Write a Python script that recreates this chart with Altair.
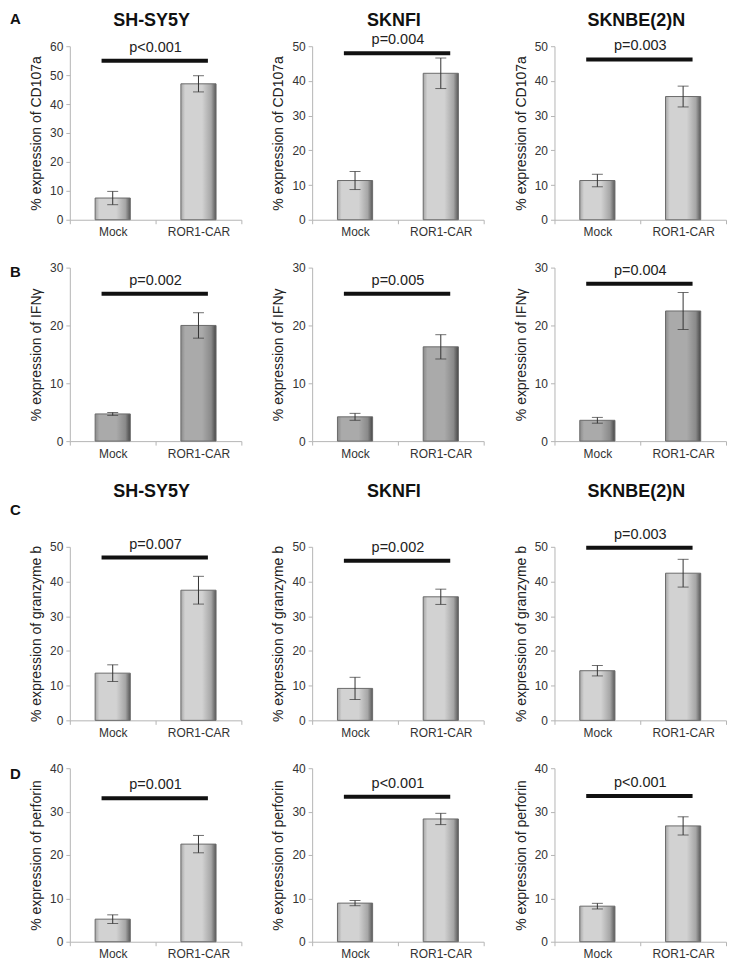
import altair as alt
import pandas as pd

# ---------------- data ----------------
cell_lines = ["SH-SY5Y", "SKNFI", "SKNBE(2)N"]
groups = ["Mock", "ROR1-CAR"]
row_letters = ["A", "B", "C", "D"]
row_ytitles = ["% expression of CD107a", "% expression of IFNγ",
               "% expression of granzyme b", "% expression of perforin"]
row_has_names = [True, False, True, False]

# means (per cell line)
cd107a_mock = [7.5, 11.3, 11.3]
cd107a_car = [47.0, 42.2, 35.5]
ifng_mock = [4.7, 4.2, 3.6]
ifng_car = [20.0, 16.3, 22.5]
gzmb_mock = [13.6, 9.2, 14.3]
gzmb_car = [37.5, 35.6, 42.4]
prf_mock = [5.2, 8.9, 8.2]
prf_car = [22.5, 28.3, 26.7]

# error half-widths
cd107a_mock_err = [2.3, 2.6, 1.8]
cd107a_car_err = [2.8, 4.4, 3.0]
ifng_mock_err = [0.25, 0.6, 0.5]
ifng_car_err = [2.2, 2.1, 3.2]
gzmb_mock_err = [2.4, 3.2, 1.5]
gzmb_car_err = [4.0, 2.2, 4.0]
prf_mock_err = [1.0, 0.6, 0.65]
prf_car_err = [2.0, 1.3, 2.1]

# p values and height of the significance bar
cd107a_p = ["p<0.001", "p=0.004", "p=0.003"]
ifng_p = ["p=0.002", "p=0.005", "p=0.004"]
gzmb_p = ["p=0.007", "p=0.002", "p=0.003"]
prf_p = ["p=0.001", "p<0.001", "p<0.001"]
cd107a_pbar = [55.0, 48.0, 46.2]
ifng_pbar = [25.5, 25.5, 27.2]
gzmb_pbar = [46.9, 46.0, 49.7]
prf_pbar = [33.1, 33.4, 33.6]

# y axis tick labels
cd107a_ticks = [[0, 10, 20, 30, 40, 50, 60], [0, 10, 20, 30, 40, 50], [0, 10, 20, 30, 40, 50]]
ifng_ticks = [[0, 10, 20, 30]] * 3
gzmb_ticks = [[0, 10, 20, 30, 40, 50]] * 3
prf_ticks = [[0, 10, 20, 30, 40]] * 3

rows_data = [
    (cd107a_mock, cd107a_car, cd107a_mock_err, cd107a_car_err, cd107a_p, cd107a_pbar, cd107a_ticks),
    (ifng_mock, ifng_car, ifng_mock_err, ifng_car_err, ifng_p, ifng_pbar, ifng_ticks),
    (gzmb_mock, gzmb_car, gzmb_mock_err, gzmb_car_err, gzmb_p, gzmb_pbar, gzmb_ticks),
    (prf_mock, prf_car, prf_mock_err, prf_car_err, prf_p, prf_pbar, prf_ticks),
]

# ---------------- styling ----------------
FONT = "Liberation Sans"
W, H = 172, 174
title_dy = [-25, 0, -55, 0]
letter_dy = [-27, 4, -37, 6]


def bar_gradient(center, edge, dark):
    return alt.Gradient(
        gradient="linear", x1=0, x2=1, y1=0, y2=0,
        stops=[
            alt.GradientStop(color=edge, offset=0),
            alt.GradientStop(color=center, offset=0.12),
            alt.GradientStop(color=center, offset=0.6),
            alt.GradientStop(color=edge, offset=0.86),
            alt.GradientStop(color=dark, offset=1),
        ],
    )


light_bar = bar_gradient("#d2d2d2", "#a6a6a6", "#585858")
dark_bar = bar_gradient("#aaaaaa", "#8a8a8a", "#474747")


def panel(r, c):
    mock, car, merr, cerr, pv, pbar, ticks = rows_data[r]
    df = pd.DataFrame({
        "group": groups,
        "value": [mock[c], car[c]],
        "lo": [mock[c] - merr[c], car[c] - cerr[c]],
        "hi": [mock[c] + merr[c], car[c] + cerr[c]],
    })
    ann = pd.DataFrame({
        "g1": [groups[0]], "g2": [groups[1]],
        "pbar": [pbar[c]], "p": [pv[c]],
        "name": [cell_lines[c]], "letter": [row_letters[r]],
    })
    ymax = ticks[c][-1]
    xscale = alt.Scale(domain=groups, paddingInner=0, paddingOuter=0)
    yscale = alt.Scale(domain=[0, ymax], nice=False)
    xaxis = alt.Axis(title=None, labelAngle=0, tickBand="extent")
    yaxis = alt.Axis(title=row_ytitles[r], values=ticks[c], titlePadding=6,
                     labelOverlap=False)

    def X(field, **kw):
        return alt.X(field, scale=xscale, sort=groups, axis=xaxis, **kw)

    def Y(field):
        return alt.Y(field, scale=yscale, axis=yaxis)

    base = alt.Chart(df)
    bars = base.mark_bar(
        width=alt.RelativeBandSize(0.41),
        color=dark_bar if r == 1 else light_bar,
        stroke="#6a6a6a", strokeWidth=1,
    ).encode(x=X("group:N"), y=Y("value:Q"))
    err = base.mark_rule(color="#333333", strokeWidth=1).encode(
        x=X("group:N"), y=Y("lo:Q"), y2="hi:Q")
    cap_lo = base.mark_tick(color="#333333", thickness=1, size=11).encode(
        x=X("group:N"), y=Y("lo:Q"))
    cap_hi = base.mark_tick(color="#333333", thickness=1, size=11).encode(
        x=X("group:N"), y=Y("hi:Q"))

    a = alt.Chart(ann)
    pline = a.mark_rule(color="#111111", strokeWidth=4).encode(
        x=X("g1:N", bandPosition=0.37),
        x2=alt.X2("g2:N", bandPosition=0.61),
        y=Y("pbar:Q"))
    ptext = a.mark_text(font=FONT, fontSize=14.5, color="#222222",
                        baseline="alphabetic", dy=-9).encode(
        x=X("g2:N", bandPosition=0),
        y=Y("pbar:Q"),
        text="p:N")

    layers = [bars, err, cap_lo, cap_hi, pline, ptext]
    if row_has_names[r]:
        layers.append(a.mark_text(font=FONT, fontSize=18, fontWeight="bold",
                                  color="#111111", baseline="middle").encode(
            x=alt.value(W / 2 - 4), y=alt.value(title_dy[r]), text="name:N"))
    if c == 0:
        layers.append(a.mark_text(font=FONT, fontSize=15, fontWeight="bold",
                                  color="#111111", align="left",
                                  baseline="middle").encode(
            x=alt.value(-60), y=alt.value(letter_dy[r]), text="letter:N"))
    return alt.layer(*layers).properties(width=W, height=H)


rows = [alt.hconcat(*[panel(r, c) for c in range(3)], spacing=29) for r in range(4)]

chart = alt.vconcat(*rows, spacing=24).properties(
    padding={"left": 2, "top": 3, "right": 0, "bottom": 0}
).configure_view(stroke=None).configure_axis(
    grid=False,
    domainColor="#b5b5b5",
    tickColor="#b5b5b5",
    tickSize=4,
    labelFont=FONT, labelFontSize=12, labelColor="#333333", labelPadding=3,
    titleFont=FONT, titleFontSize=14, titleFontWeight="normal", titleColor="#222222",
)

chart.save("out.html", embed_options={"renderer": "svg", "actions": False})
